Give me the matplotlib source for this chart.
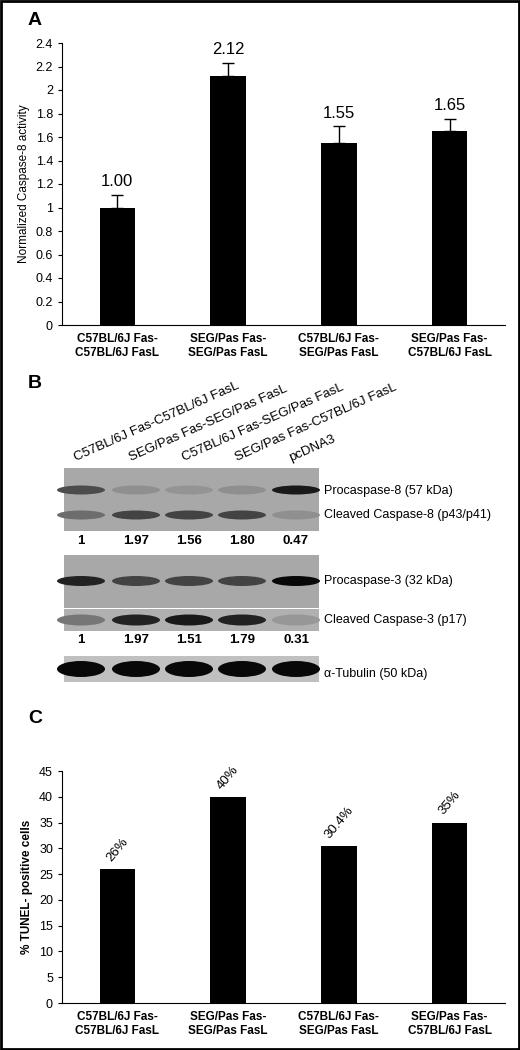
import numpy as np
import matplotlib.pyplot as plt
from matplotlib.patches import Ellipse, Rectangle

plt.rcParams['font.family'] = ['Liberation Sans', 'DejaVu Sans']

CATS = ['C57BL/6J Fas-\nC57BL/6J FasL', 'SEG/Pas Fas-\nSEG/Pas FasL',
        'C57BL/6J Fas-\nSEG/Pas FasL', 'SEG/Pas Fas-\nC57BL/6J FasL']
CASP8 = [1.00, 2.12, 1.55, 1.65]
CASP8_ERR = [0.11, 0.11, 0.14, 0.10]
TUNEL = [26, 40, 30.4, 35]
TUNEL_LBL = ['26%', '40%', '30.4%', '35%']

LANES = ['C57BL/6J Fas-C57BL/6J FasL', 'SEG/Pas Fas-SEG/Pas FasL',
         'C57BL/6J Fas-SEG/Pas FasL', 'SEG/Pas Fas-C57BL/6J FasL', 'pcDNA3']
PRO8 = [0.55, 0.15, 0.12, 0.15, 0.85]      # band darkness
CL8 = [0.35, 0.6, 0.6, 0.6, 0.15]
Q8 = ['1', '1.97', '1.56', '1.80', '0.47']
PRO3 = [0.8, 0.6, 0.6, 0.6, 0.95]
CL3 = [0.3, 0.8, 0.85, 0.8, 0.1]
Q3 = ['1', '1.97', '1.51', '1.79', '0.31']
TUB = [0.95, 0.95, 0.95, 0.95, 0.95]

W, H = 520, 1050
fig = plt.figure(figsize=(W / 100, H / 100), dpi=100)


def px_axes(x0, y0, x1, y1):
    return fig.add_axes([x0 / W, 1 - y1 / H, (x1 - x0) / W, (y1 - y0) / H])


def bar_panel(ax, vals, ymax, step, fmt):
    x = np.arange(len(vals))
    ax.bar(x, vals, width=0.32, color='black')
    ax.set_xlim(-0.5, len(vals) - 0.5)
    ax.set_ylim(0, ymax)
    ax.set_yticks(np.arange(0, ymax + 1e-9, step))
    ax.set_yticklabels([fmt(v) for v in np.arange(0, ymax + 1e-9, step)], fontsize=9)
    ax.set_xticks(x)
    ax.set_xticklabels(CATS, fontsize=8.5, fontweight='bold')
    ax.tick_params(axis='x', length=0, pad=6)
    ax.tick_params(axis='y', length=3)
    for s in ['top', 'right']:
        ax.spines[s].set_visible(False)
    return x


# panel A
axA = px_axes(62, 43, 505, 325)
x = bar_panel(axA, CASP8, 2.4, 0.2, lambda v: f'{v:.1f}'.rstrip('0').rstrip('.') if v else '0')
axA.errorbar(x, CASP8, yerr=[np.zeros(4), CASP8_ERR], fmt='none', ecolor='black',
             capsize=4, elinewidth=1)
for xi, v, e in zip(x, CASP8, CASP8_ERR):
    axA.text(xi, v + e + 0.05, f'{v:.2f}', ha='center', va='bottom', fontsize=12)
axA.set_ylabel('Normalized Caspase-8 activity', fontsize=8.5)

# panel C
axC = px_axes(62, 771, 505, 1003)
x = bar_panel(axC, TUNEL, 45, 5, lambda v: f'{v:.0f}')
for xi, v, lab in zip(x, TUNEL, TUNEL_LBL):
    axC.text(xi, v + 1.0, lab, ha='center', va='bottom', fontsize=9.5,
             rotation=50)
axC.set_ylabel('% TUNEL- positive cells', fontsize=8.5, fontweight='bold')

# panel B (pixel coordinates)
axB = fig.add_axes([0, 0, 1, 1])
axB.set_xlim(0, W)
axB.set_ylim(H, 0)
axB.axis('off')
axB.add_patch(Rectangle((1, 1), W - 2, H - 2, fill=False, lw=2, ec='black'))
for lbl, y in [('A', 12), ('B', 375), ('C', 710)]:
    axB.text(28, y, lbl, fontsize=14, fontweight='bold', va='top')

lane_x = [81, 136, 189, 242, 296]
for lx, name in zip(lane_x, LANES):
    axB.text(lx - 4, 464, name, rotation=24, rotation_mode='anchor', fontsize=9.5,
             ha='left', va='bottom')


def blot(y0, y1, rows, base='#a8a8a8'):
    axB.add_patch(Rectangle((64, y0), 255, y1 - y0, color=base, lw=0))
    for yc, h, dark in rows:
        for lx, d in zip(lane_x, dark):
            g = 0.66 * (1 - d)
            axB.add_patch(Ellipse((lx, yc), 48, h, color=str(g), lw=0))


blot(468, 531, [(490, 9, PRO8), (515, 9, CL8)])
blot(555, 608, [(581, 10, PRO3)])
blot(609, 631, [(620, 11, CL3)], base='#b0b0b0')
blot(656, 682, [(669, 16, TUB)], base='#c0c0c0')
for lx, a, b in zip(lane_x, Q8, Q3):
    axB.text(lx, 541, a, ha='center', va='center', fontsize=9.5, fontweight='bold')
    axB.text(lx, 640, b, ha='center', va='center', fontsize=9.5, fontweight='bold')
for y, t in [(491, 'Procaspase-8 (57 kDa)'), (515, 'Cleaved Caspase-8 (p43/p41)'),
             (581, 'Procaspase-3 (32 kDa)'), (620, 'Cleaved Caspase-3 (p17)'),
             (674, 'α-Tubulin (50 kDa)')]:
    axB.text(324, y, t, fontsize=9, va='center')

fig.savefig('out.png', dpi=100)
